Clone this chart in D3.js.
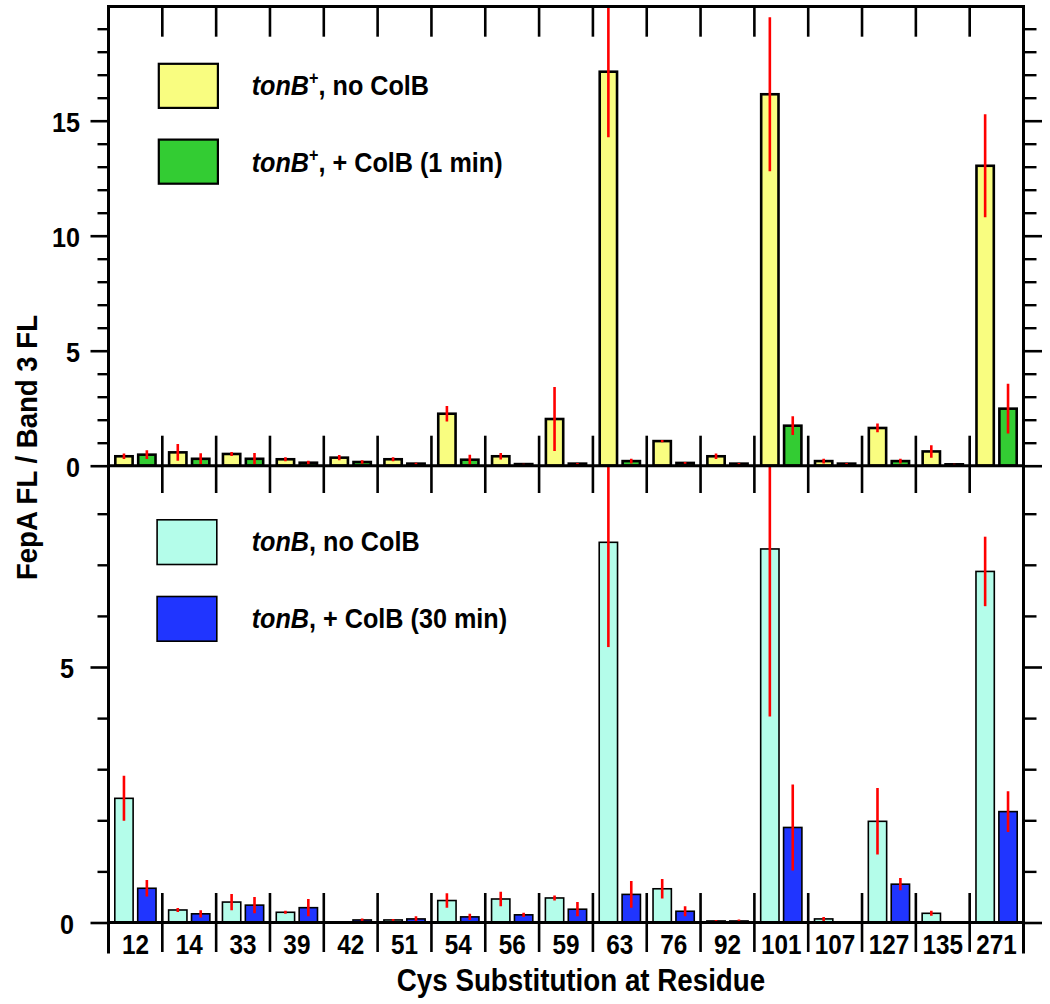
<!DOCTYPE html>
<html>
<head>
<meta charset="utf-8">
<script src="https://cdn.jsdelivr.net/npm/d3@7"></script>
<style>
  html, body { margin: 0; padding: 0; background: #fff; }
  svg { display: block; }
  text { font-family: "Liberation Sans", Arial, Helvetica, sans-serif; font-weight: bold; fill: #000; }
</style>
</head>
<body>
<svg id="chart" width="1050" height="1004"></svg>
<script>
// ---------------- data ----------------
const residues = ["12","14","33","39","42","51","54","56","59","63","76","92","101","107","127","135","271"];

// top panel (tonB+)
const tonBPlusNoColB    = [0.41,0.58,0.51,0.28,0.35,0.28,2.26,0.41,2.03,17.13,1.07,0.41,16.15,0.20,1.64,0.62,13.04];
const tonBPlusNoColBErr = [0.12,0.36,0.09,0.09,0.11,0.09,0.34,0.14,1.39,2.85,0.05,0.12,3.35,0.10,0.19,0.27,2.24];
const tonBPlusColB      = [0.48,0.30,0.30,0.13,0.16,0.09,0.26,0.07,0.09,0.20,0.12,0.09,1.74,0.09,0.20,0.06,2.48];
const tonBPlusColBErr   = [0.19,0.24,0.25,0.08,0.08,0.04,0.22,0.02,0.03,0.10,0.04,0.03,0.41,0.03,0.10,0.02,1.08];

// bottom panel (tonB)
const tonBNoColB    = [2.43,0.245,0.40,0.20,0.01,0.05,0.43,0.46,0.48,7.44,0.66,0.03,7.31,0.07,1.98,0.18,6.87];
const tonBNoColBErr = [0.44,0.04,0.16,0.03,0.01,0.02,0.14,0.14,0.05,2.05,0.19,0.02,3.28,0.04,0.65,0.05,0.68];
const tonBColB      = [0.67,0.17,0.34,0.29,0.05,0.07,0.11,0.15,0.26,0.55,0.22,0.03,1.86,0.01,0.75,0.01,2.17];
const tonBColBErr   = [0.16,0.07,0.16,0.17,0.03,0.05,0.06,0.04,0.14,0.26,0.10,0.03,0.84,0.01,0.12,0.01,0.40];

const topTicksMajor = [0,5,10,15];
const topTicksMinor = [1,2,3,4,6,7,8,9,11,12,13,14,16,17,18,19];
const botTicksMajor = [0,5];
const botTicksMinor = [1,2,3,4,6,7,8];

const topLegend = [
  {name:"tonB", sup:"+", rest:", no ColB", color:"#f9fd80"},
  {name:"tonB", sup:"+", rest:", + ColB (1 min)", color:"#33cc33"}
];
const botLegend = [
  {name:"tonB", sup:"", rest:", no ColB", color:"#b4fdea"},
  {name:"tonB", sup:"", rest:", + ColB (30 min)", color:"#2035ff"}
];
const xTitle = "Cys Substitution at Residue";
const yTitle = "FepA FL / Band 3 FL";

// ---------------- layout ----------------
const svg = d3.select("#chart");
const X0 = 108.5, X1 = 1023.5;
const TOP = 6.5, MID = 465.7, BOT = 922.5;
const SQ = 0.9; // horizontal text compression

const x = d3.scaleBand().domain(residues).range([X0, X1]).padding(0);
const xSub = d3.scaleBand().domain([0,1]).range([5.5, x.bandwidth() - 5.5]).paddingInner(0.13);

const yTop = d3.scaleLinear().domain([0, 20]).range([MID, MID - 20*23]);
const yBot = d3.scaleLinear().domain([0, 5]).range([BOT, 667]);

// clip paths
const defs = svg.append("defs");
defs.append("clipPath").attr("id","clipTop").append("rect")
  .attr("x", X0).attr("y", TOP).attr("width", X1 - X0).attr("height", MID - TOP);
defs.append("clipPath").attr("id","clipBot").append("rect")
  .attr("x", X0).attr("y", MID).attr("width", X1 - X0).attr("height", BOT - MID);

function drawPanel(y, s1, e1, s2, e2, c1, c2, clip, strokeW) {
  const g = svg.append("g").attr("clip-path", `url(#${clip})`);
  const data = residues.map((r, i) => [
    {r, k:0, v:s1[i], e:e1[i], c:c1},
    {r, k:1, v:s2[i], e:e2[i], c:c2}
  ]).flat();
  const bw = xSub.bandwidth() - strokeW;
  g.selectAll("rect.bar").data(data).join("rect")
    .attr("class","bar")
    .attr("x", d => x(d.r) + xSub(d.k) + strokeW/2)
    .attr("width", bw)
    .attr("y", d => y(d.v))
    .attr("height", d => y(0) - y(d.v))
    .attr("fill", d => d.c)
    .attr("stroke", "#000")
    .attr("stroke-width", strokeW);
  g.selectAll("line.err").data(data).join("line")
    .attr("class","err")
    .attr("x1", d => x(d.r) + xSub(d.k) + xSub.bandwidth()/2)
    .attr("x2", d => x(d.r) + xSub(d.k) + xSub.bandwidth()/2)
    .attr("y1", d => y(Math.max(0, d.v - d.e)))
    .attr("y2", d => y(d.v + d.e))
    .attr("stroke", "#ff0000")
    .attr("stroke-width", 2.6);
}

drawPanel(yTop, tonBPlusNoColB, tonBPlusNoColBErr, tonBPlusColB, tonBPlusColBErr, "#f9fd80", "#33cc33", "clipTop", 2.6);
drawPanel(yBot, tonBNoColB, tonBNoColBErr, tonBColB, tonBColBErr, "#b4fdea", "#2035ff", "clipBot", 1.6);

// ---------------- axes ----------------
function styleAxis(g, w) {
  g.select(".domain").remove();
  g.selectAll(".tick line").attr("stroke", "#000").attr("stroke-width", w);
}
function labelAxis(g, dx, fs) {
  g.selectAll(".tick text")
    .attr("x", null).attr("dy", "0.39em")
    .attr("text-anchor", "end")
    .attr("font-size", fs)
    .attr("font-family", null)
    .attr("transform", `translate(${dx},0) scale(${SQ},1)`)
    .attr("fill", "#000");
}

// top panel left
let g = svg.append("g").attr("transform", `translate(${X0},0)`)
  .call(d3.axisLeft(yTop).tickValues(topTicksMajor).tickSize(18).tickFormat(d3.format("d")));
styleAxis(g, 2.6); labelAxis(g, -28.5, 28);
g = svg.append("g").attr("transform", `translate(${X0},0)`)
  .call(d3.axisLeft(yTop).tickValues(topTicksMinor).tickSize(11).tickFormat(""));
styleAxis(g, 2.4);
// top panel right
g = svg.append("g").attr("transform", `translate(${X1},0)`)
  .call(d3.axisRight(yTop).tickValues(topTicksMajor).tickSize(18.5).tickFormat(""));
styleAxis(g, 2.6);
g = svg.append("g").attr("transform", `translate(${X1},0)`)
  .call(d3.axisRight(yTop).tickValues(topTicksMinor).tickSize(13).tickFormat(""));
styleAxis(g, 2.4);

// bottom panel left
g = svg.append("g").attr("transform", `translate(${X0},0)`)
  .call(d3.axisLeft(yBot).tickValues(botTicksMajor).tickSize(18).tickFormat(d3.format("d")));
styleAxis(g, 2.6); labelAxis(g, -34.5, 28);
g = svg.append("g").attr("transform", `translate(${X0},0)`)
  .call(d3.axisLeft(yBot).tickValues(botTicksMinor).tickSize(11).tickFormat(""));
styleAxis(g, 2.4);
// bottom panel right
g = svg.append("g").attr("transform", `translate(${X1},0)`)
  .call(d3.axisRight(yBot).tickValues(botTicksMajor).tickSize(18.5).tickFormat(""));
styleAxis(g, 2.6);
g = svg.append("g").attr("transform", `translate(${X1},0)`)
  .call(d3.axisRight(yBot).tickValues(botTicksMinor).tickSize(13).tickFormat(""));
styleAxis(g, 2.4);

// frame lines
const frame = svg.append("g").attr("stroke", "#000").attr("stroke-width", 3).attr("stroke-linecap", "square");
frame.append("line").attr("x1", X0).attr("x2", X0).attr("y1", TOP).attr("y2", 952);
frame.append("line").attr("x1", X1).attr("x2", X1).attr("y1", TOP).attr("y2", 952);
frame.append("line").attr("x1", X0).attr("x2", X1).attr("y1", TOP).attr("y2", TOP);
frame.append("line").attr("x1", X0).attr("x2", X1).attr("y1", MID).attr("y2", MID);
frame.append("line").attr("x1", X0).attr("x2", X1).attr("y1", BOT).attr("y2", BOT);

// category separators
const seps = residues.slice(1).map(r => x(r));
const sepG = svg.append("g").attr("stroke", "#000").attr("stroke-width", 2.6);
[[TOP, 36.7], [435.7, 493], [893, 952]].forEach(([a, b]) => {
  sepG.selectAll(null).data(seps).join("line")
    .attr("x1", d => d).attr("x2", d => d).attr("y1", a).attr("y2", b);
});

// x tick labels
g = svg.append("g").attr("transform", `translate(0,${BOT})`)
  .call(d3.axisBottom(x).tickSize(0));
g.select(".domain").remove();
g.selectAll(".tick text")
  .attr("y", null).attr("dy", null)
  .attr("font-size", 27).attr("font-family", null)
  .attr("fill", "#000")
  .attr("transform", `translate(0,31.5) scale(${SQ},1)`);

// axis titles
svg.append("text")
  .attr("transform", `translate(${(X0 + X1)/2 + 15},991) scale(0.91,1)`)
  .attr("text-anchor", "middle").attr("font-size", 30.5)
  .text(xTitle);
svg.append("text")
  .attr("transform", `translate(37,447.5) rotate(-90) scale(0.92,1)`)
  .attr("text-anchor", "middle").attr("font-size", 30)
  .text(yTitle);

// legends
function drawLegend(items, boxX, boxYs, textYs, sw) {
  items.forEach((it, i) => {
    svg.append("rect")
      .attr("x", boxX + sw/2).attr("y", boxYs[i] + sw/2)
      .attr("width", 61.3 - sw).attr("height", 46.3 - sw)
      .attr("fill", it.color).attr("stroke", "#000").attr("stroke-width", sw);
    const t = svg.append("text")
      .attr("transform", `translate(251.7,${textYs[i]}) scale(${SQ},1)`)
      .attr("font-size", 28);
    t.append("tspan").attr("font-style", "italic").text(it.name);
    if (it.sup) {
      t.append("tspan").attr("font-size", 18).attr("dy", -11).text(it.sup);
      t.append("tspan").attr("dy", 11).text(it.rest);
    } else {
      t.append("tspan").text(it.rest);
    }
  });
}
drawLegend(topLegend, 157.7, [62.7, 138.5], [95, 171.7], 2.2);
drawLegend(botLegend, 156.3, [519, 595.7], [551, 627.7], 1.6);
</script>
</body>
</html>
